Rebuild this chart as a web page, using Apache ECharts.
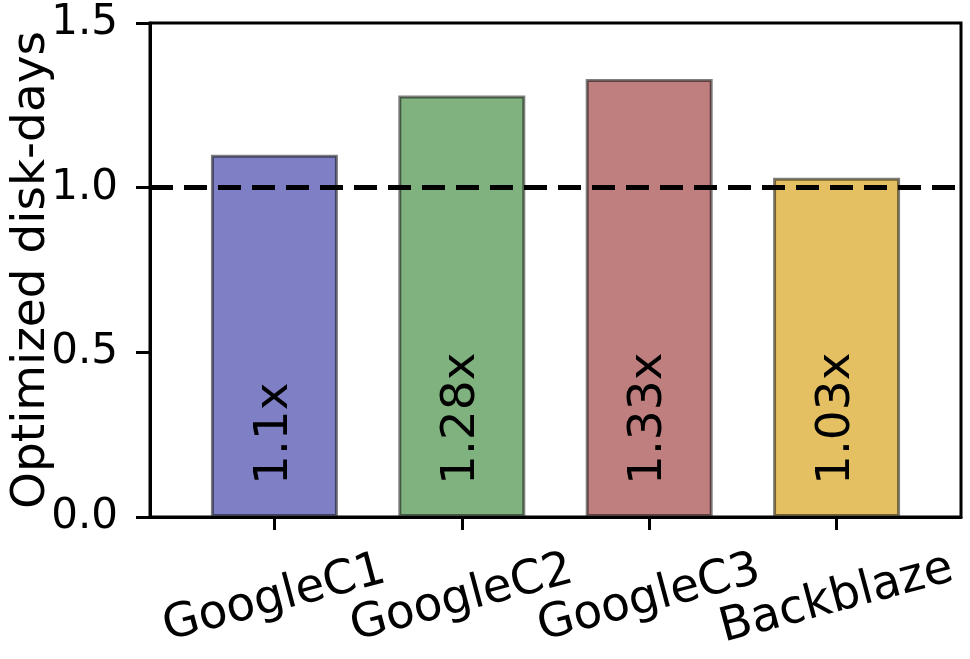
<!DOCTYPE html>
<html>
<head>
<meta charset="utf-8">
<script src="https://cdn.jsdelivr.net/npm/echarts@6/dist/echarts.min.js"></script>
<style>
  html, body { margin: 0; padding: 0; background: #fff; }
  #chart { width: 970px; height: 659px; }
</style>
</head>
<body>
<div id="chart"></div>
<script>
// data
const categories = ['GoogleC1', 'GoogleC2', 'GoogleC3', 'Backblaze']
const speedups = [1.1, 1.28, 1.33, 1.03]
const baseline = 1.0
const yTicks = [0, 0.5, 1.0, 1.5]
const barColors = ['#7f7fc6', '#80b280', '#bf7f7f', '#e4c062']

const font = 'DejaVu Sans'
const chart = echarts.init(document.getElementById('chart'), null, { renderer: 'canvas' })

const option = {
  animation: false,
  grid: {
    left: 150,
    right: 9,
    top: 23,
    bottom: 142,
    outerBoundsMode: 'none',
    containLabel: false,
    show: true,
    borderColor: '#000',
    borderWidth: 3
  },
  xAxis: {
    type: 'value',
    min: -0.664,
    max: 3.664,
    splitLine: { show: false },
    axisLine: { show: true, onZero: false, lineStyle: { color: '#000', width: 3 } },
    axisTick: {
      show: true,
      customValues: [0, 1, 2, 3],
      length: 13,
      lineStyle: { color: '#000', width: 3 }
    },
    axisLabel: {
      customValues: [0, 1, 2, 3],
      formatter: v => categories[Math.round(v)],
      rotate: 15,
      align: 'center',
      verticalAlign: 'middle',
      margin: 82,
      fontFamily: font,
      fontSize: 47,
      color: '#000'
    }
  },
  yAxis: {
    type: 'value',
    min: yTicks[0],
    max: yTicks[yTicks.length - 1],
    interval: 0.5,
    name: 'Optimized disk-days',
    nameLocation: 'middle',
    nameGap: 118,
    nameMoveOverlap: false,
    nameTextStyle: {
      fontFamily: font,
      fontSize: 47,
      color: '#000',
      verticalAlign: 'middle'
    },
    splitLine: { show: false },
    axisLine: { show: true, onZero: false, lineStyle: { color: '#000', width: 3 } },
    axisTick: { show: true, length: 14, lineStyle: { color: '#000', width: 3 } },
    axisLabel: {
      formatter: v => v.toFixed(1),
      margin: 32,
      fontFamily: font,
      fontSize: 42,
      color: '#000'
    }
  },
  series: [
    {
      type: 'bar',
      barWidth: 127,
      data: speedups.map((v, i) => ({
        value: [i, v],
        itemStyle: { color: barColors[i] }
      })),
      itemStyle: {
        borderColor: 'rgba(0, 0, 0, 0.5)',
        borderWidth: 3
      },
      label: {
        show: true,
        position: 'insideBottom',
        distance: 32,
        rotate: 90,
        align: 'left',
        verticalAlign: 'middle',
        formatter: p => speedups[p.dataIndex] + 'x',
        fontFamily: font,
        fontSize: 47,
        color: '#000'
      },
      markLine: {
        silent: true,
        symbol: ['none', 'none'],
        label: { show: false },
        lineStyle: { color: '#000', width: 5, type: [23, 11] },
        data: [{ yAxis: baseline }]
      }
    }
  ]
}

chart.setOption(option)
</script>
</body>
</html>
